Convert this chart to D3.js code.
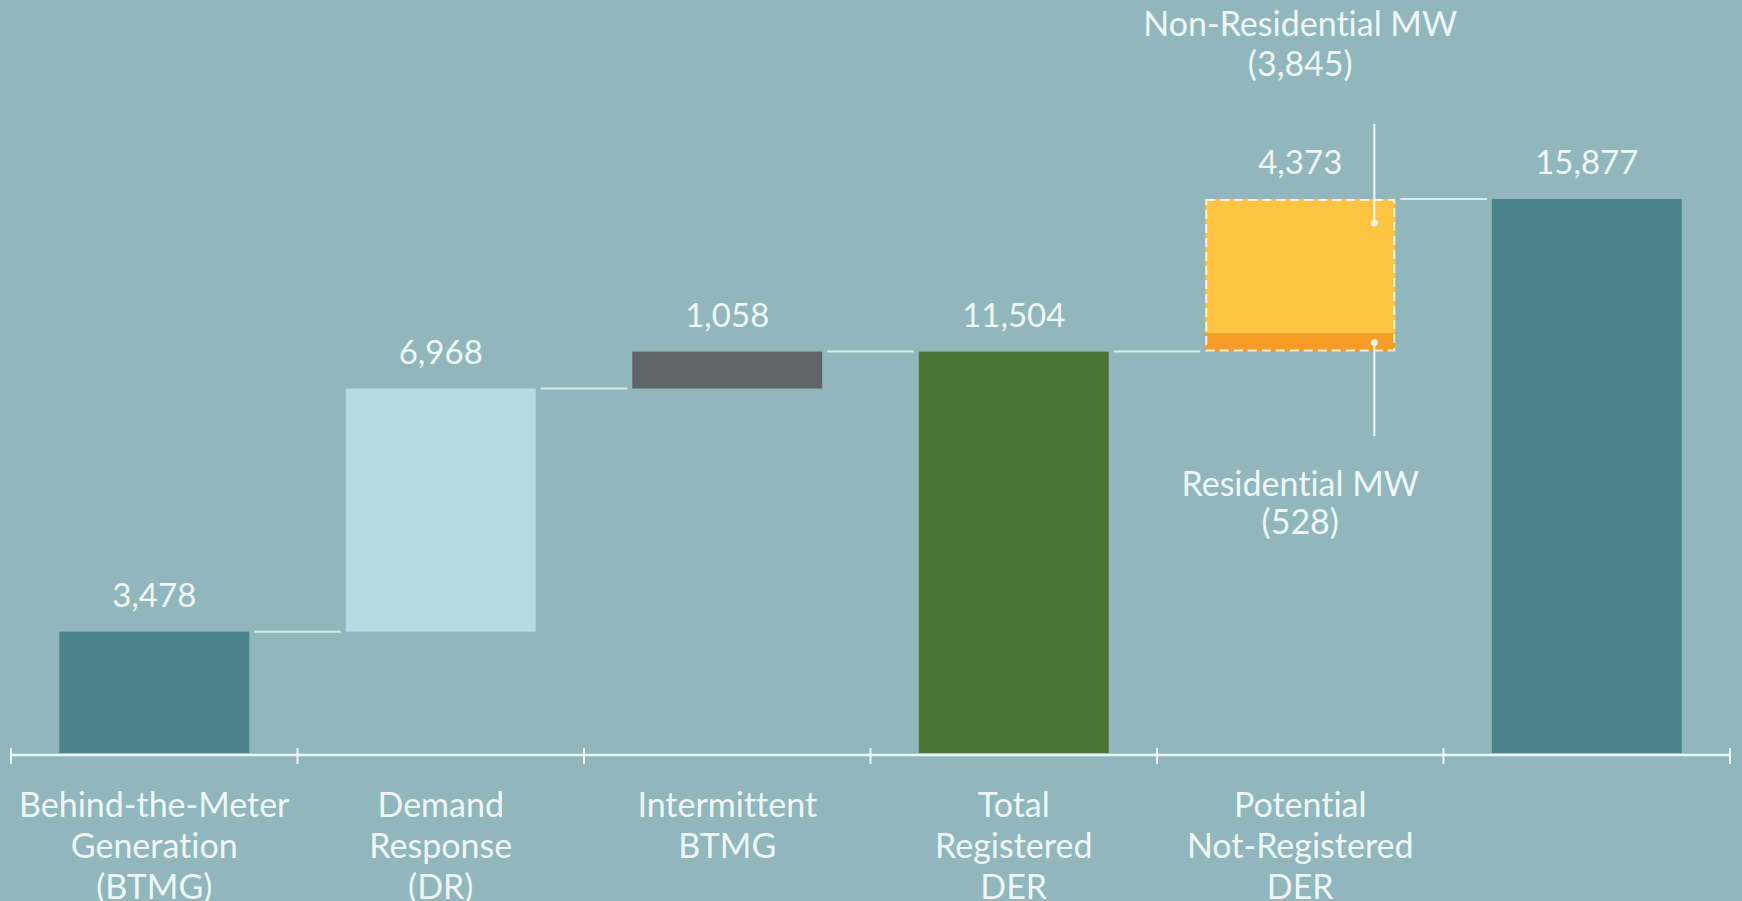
<!DOCTYPE html>
<html>
<head>
<meta charset="utf-8">
<script src="https://cdn.jsdelivr.net/npm/d3@7"></script>
<style>
  html, body { margin: 0; padding: 0; background: #91b6bc; overflow: hidden; }
  svg { display: block; }
  text { font-family: Lato, "Open Sans", sans-serif; font-weight: 400; fill: #eef7f7;
         font-variant-ligatures: none; font-feature-settings: "liga" 0, "dlig" 0; }
</style>
</head>
<body>
<svg id="chart" width="1742" height="901"></svg>
<script>
// ---- data ----
const categories = ["BTMG", "DR", "IntBTMG", "TotalReg", "Potential", "Total"];
const categoryLabels = [
  ["Behind-the-Meter", "Generation", "(BTMG)"],
  ["Demand", "Response", "(DR)"],
  ["Intermittent", "BTMG"],
  ["Total", "Registered", "DER"],
  ["Potential", "Not-Registered", "DER"],
  []
];
const values = [3478, 6968, 1058, 11504, 4373, 15877];
const valueLabels = ["3,478", "6,968", "1,058", "11,504", "4,373", "15,877"];
const barTypes = ["delta", "delta", "delta", "total", "stack", "total"];
const barColors = ["#4a838c", "#b6dbe1", "#5f6468", "#4a7535", null, "#4a838c"];
const stackParts = ["Residential MW", "Non-Residential MW"];
const stackValues = [528, 3845];
const stackLabels = ["(528)", "(3,845)"];
const stackColors = ["#f99c25", "#fdc444"];

// ---- layout ----
const W = 1742, H = 901;
const svg = d3.select("#chart");
svg.append("rect").attr("width", W).attr("height", H).attr("fill", "#91b6bc");

const x = d3.scaleBand().domain(categories).range([11, 1730])
  .paddingInner(0.337).paddingOuter(0.1685);
const y = d3.scaleLinear().domain([0, 15877]).range([753, 199]);
const axisY = 755;

// compute waterfall extents
let running = 0;
const bars = values.map((v, i) => {
  let y0, y1;
  if (barTypes[i] === "total") { y0 = 0; y1 = v; running = v; }
  else { y0 = running; y1 = running + v; running = y1; }
  return { cat: categories[i], i, v, y0, y1 };
});

// bars (except stack)
svg.append("g").selectAll("rect")
  .data(bars.filter(d => barTypes[d.i] !== "stack"))
  .join("rect")
  .attr("x", d => x(d.cat))
  .attr("width", x.bandwidth())
  .attr("y", d => y(d.y1))
  .attr("height", d => y(d.y0) - y(d.y1))
  .attr("fill", d => barColors[d.i]);

// stacked potential bar
const sb = bars.find(d => barTypes[d.i] === "stack");
let acc = sb.y0;
const segs = stackValues.map((v, k) => { const s = { k, y0: acc, y1: acc + v }; acc += v; return s; });
svg.append("g").selectAll("rect")
  .data(segs).join("rect")
  .attr("x", x(sb.cat))
  .attr("width", x.bandwidth())
  .attr("y", d => y(d.y1))
  .attr("height", d => y(d.y0) - y(d.y1))
  .attr("fill", d => stackColors[d.k]);
svg.append("rect")
  .attr("x", x(sb.cat) + 1).attr("y", y(sb.y1) + 1)
  .attr("width", x.bandwidth() - 2).attr("height", y(sb.y0) - y(sb.y1) - 2)
  .attr("fill", "none").attr("stroke", "#f6f0dc").attr("stroke-width", 2)
  .attr("stroke-dasharray", "9,5");

// connectors
const gap = 5;
svg.append("g").selectAll("line")
  .data(bars.slice(0, -1))
  .join("line")
  .attr("x1", d => x(d.cat) + x.bandwidth() + gap)
  .attr("x2", d => x(categories[d.i + 1]) - gap)
  .attr("y1", d => y(d.y1)).attr("y2", d => y(d.y1))
  .attr("stroke", "#d6ecef").attr("stroke-width", 2);

// value labels
svg.append("g").selectAll("text")
  .data(bars).join("text")
  .attr("x", d => x(d.cat) + x.bandwidth() / 2)
  .attr("y", d => y(d.y1) - 25)
  .attr("text-anchor", "middle")
  .attr("font-size", 33)
  .text(d => valueLabels[d.i]);

// axis
const ax = svg.append("g");
const xr = x.range();
ax.append("line").attr("x1", xr[0]).attr("x2", xr[1]).attr("y1", axisY).attr("y2", axisY)
  .attr("stroke", "#eef7f7").attr("stroke-width", 2.5);
const tickXs = categories.map(c => x(c) - x.step() * x.paddingInner() / 2).concat([xr[1]]);
tickXs[0] = xr[0];
ax.selectAll("line.tick").data(tickXs).join("line").attr("class", "tick")
  .attr("x1", d => d).attr("x2", d => d)
  .attr("y1", axisY - 7).attr("y2", axisY + 9)
  .attr("stroke", "#eef7f7").attr("stroke-width", 2);

// category labels
const cl = svg.append("g").selectAll("text")
  .data(categories).join("text")
  .attr("x", c => x(c) + x.bandwidth() / 2)
  .attr("y", 817)
  .attr("text-anchor", "middle")
  .attr("font-size", 34);
cl.selectAll("tspan")
  .data((c, i) => categoryLabels[i])
  .join("tspan")
  .attr("x", function() { return this.parentNode.getAttribute("x"); })
  .attr("dy", (d, j) => j === 0 ? 0 : 41)
  .text(d => d);

// annotations for stacked bar
const lineX = x(sb.cat) + x.bandwidth() * 0.89;
const cx = x(sb.cat) + x.bandwidth() / 2;
// non-residential (top)
const nonRes = segs[1];
const dotTop = y(nonRes.y1) + 24;
svg.append("line").attr("x1", lineX).attr("x2", lineX).attr("y1", 124).attr("y2", dotTop)
  .attr("stroke", "#f3f9f9").attr("stroke-width", 2);
svg.append("circle").attr("cx", lineX).attr("cy", dotTop).attr("r", 3.5).attr("fill", "#f6f3e6");
svg.append("text").attr("x", cx).attr("y", 36).attr("text-anchor", "middle")
  .attr("font-size", 34).text(stackParts[1]);
svg.append("text").attr("x", cx).attr("y", 76).attr("text-anchor", "middle")
  .attr("font-size", 34).text(stackLabels[1]);
// residential (bottom)
const res = segs[0];
const dotBot = (y(res.y0) + y(res.y1)) / 2;
svg.append("line").attr("x1", lineX).attr("x2", lineX).attr("y1", dotBot).attr("y2", 436)
  .attr("stroke", "#f3f9f9").attr("stroke-width", 2);
svg.append("circle").attr("cx", lineX).attr("cy", dotBot).attr("r", 3.5).attr("fill", "#f6f3e6");
svg.append("text").attr("x", cx).attr("y", 496).attr("text-anchor", "middle")
  .attr("font-size", 34).text(stackParts[0]);
svg.append("text").attr("x", cx).attr("y", 534).attr("text-anchor", "middle")
  .attr("font-size", 34).text(stackLabels[0]);
</script>
</body>
</html>
